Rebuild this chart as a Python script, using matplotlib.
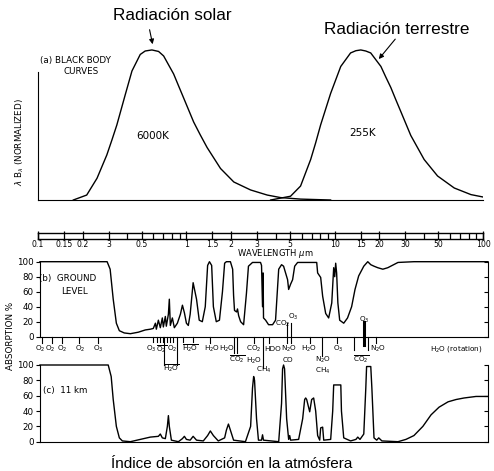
import numpy as np
import matplotlib
matplotlib.use('Agg')
import matplotlib.pyplot as plt

# black body curves, lambda*B_lambda normalised to peak
hot_wl = [0.173, 0.213, 0.250, 0.291, 0.315, 0.340, 0.387, 0.430, 0.489, 0.528, 0.586, 0.650,
          0.703, 0.821, 0.887, 0.959, 1.12, 1.24, 1.38, 1.70, 2.09, 2.71, 3.51, 4.32, 5.89, 9.39]
hot_val = [0, 0.033, 0.145, 0.30, 0.40, 0.50, 0.70, 0.86, 0.97, 0.993, 1.0, 0.99,
           0.96, 0.84, 0.76, 0.68, 0.52, 0.435, 0.35, 0.21, 0.12, 0.067, 0.033, 0.016, 0.006, 0]
cold_wl = [3.70, 5.04, 5.89, 6.89, 7.44, 8.04, 9.39, 10.99, 12.8, 13.9, 15.0, 16.2, 17.5,
           20.5, 22.1, 23.9, 25.8, 27.9, 32.6, 40.1, 49.4, 64.0, 82.9, 100]
cold_val = [0, 0.025, 0.093, 0.27, 0.38, 0.50, 0.71, 0.89, 0.98, 0.995, 1.0, 0.993, 0.98,
            0.89, 0.82, 0.75, 0.67, 0.59, 0.43, 0.27, 0.16, 0.08, 0.036, 0.02]

# absorption at ground level (%)
ground_wl = [0.103, 0.292, 0.306, 0.321, 0.337, 0.353, 0.381, 0.419, 0.474, 0.528,
             0.571, 0.598, 0.618, 0.627, 0.647, 0.667, 0.688, 0.699, 0.721, 0.732,
             0.756, 0.767, 0.779, 0.804, 0.829, 0.869, 0.911, 0.940, 0.969, 1.00,
             1.03, 1.06, 1.11, 1.17, 1.22, 1.28, 1.34, 1.39, 1.43, 1.48,
             1.52, 1.59, 1.67, 1.75, 1.81, 1.86, 1.98, 2.05, 2.08, 2.11,
             2.18, 2.21, 2.25, 2.32, 2.43, 2.54, 2.62, 2.79, 3.16, 3.21,
             3.26, 3.29, 3.31, 3.42, 3.58, 3.81, 3.99, 4.19, 4.38, 4.52,
             4.81, 4.89, 5.04, 5.20, 5.37, 5.62, 7.56, 7.67, 8.04, 8.29,
             8.69, 9.10, 9.55, 9.84, 10.0, 10.15, 10.3, 10.5, 10.8, 11.5,
             12.2, 13.0, 13.7, 14.5, 15.7, 16.7, 17.5, 18.4, 19.5, 21.1,
             22.8, 26.7, 34.2, 108]
ground_abs = [100, 100, 90, 50, 18, 8, 5, 4, 6, 9,
              10, 11, 18, 10, 22, 12, 25, 13, 27, 14,
              30, 50, 15, 25, 12, 18, 30, 42, 32, 18,
              15, 30, 72, 50, 22, 20, 40, 95, 100, 95,
              40, 20, 22, 60, 98, 100, 100, 90, 55, 35,
              33, 37, 28, 20, 16, 58, 94, 99, 99, 95,
              40, 85, 25, 22, 16, 16, 22, 90, 96, 94,
              76, 63, 70, 76, 94, 99, 99, 85, 79, 54,
              31, 25, 45, 92, 80, 98, 85, 45, 22, 18,
              25, 40, 63, 81, 94, 100, 96, 94, 92, 90,
              92, 99, 100, 100]

# absorption at 11 km (%)
km11_wl = [0.103, 0.297, 0.311, 0.321, 0.337, 0.353, 0.370, 0.419, 0.489, 0.571,
           0.647, 0.667, 0.688, 0.721, 0.744, 0.756, 0.767, 0.792, 0.883, 0.940,
           0.969, 1.00, 1.06, 1.11, 1.17, 1.30, 1.39, 1.45, 1.52, 1.64,
           1.81, 1.86, 1.92, 1.98, 2.08, 2.50, 2.71, 2.79, 2.84, 2.88,
           2.97, 3.06, 3.21, 3.26, 3.31, 4.19, 4.38, 4.45, 4.52, 4.59,
           4.74, 4.89, 4.97, 5.04, 5.71, 6.08, 6.27, 6.37, 6.47, 6.78,
           6.99, 7.21, 7.44, 7.67, 7.92, 8.04, 8.29, 8.43, 9.39, 9.69,
           9.84, 10.99, 11.1, 11.5, 12.8, 13.9, 14.3, 14.8, 15.7, 16.2,
           16.4, 17.5, 17.8, 18.4, 19.2, 19.8, 20.8, 26.7, 30.2, 34.2,
           39.3, 44.6, 50.5, 58.1, 65.8, 74.5, 89.7, 108]
km11_abs = [100, 100, 85, 55, 20, 5, 1, 0, 3, 6,
            7, 10, 5, 4, 20, 34, 20, 2, 0, 4,
            7, 3, 2, 7, 2, 1, 8, 14, 8, 1,
            5, 15, 23, 15, 2, 0, 20, 70, 85, 80,
            30, 2, 2, 9, 2, 0, 50, 95, 100, 95,
            30, 3, 8, 2, 3, 30, 55, 57, 55, 39,
            55, 57, 40, 8, 2, 18, 19, 2, 3, 40,
            74, 74, 40, 5, 1, 3, 6, 3, 10, 70,
            98, 98, 70, 5, 2, 5, 1, 0, 3, 8,
            20, 35, 45, 52, 55, 57, 59, 59]

# wavelength scale
scale_major = [0.1, 0.15, 0.2, 0.3, 0.5, 1, 1.5, 2, 3, 5, 10, 15, 20, 30, 50, 100]
scale_labels = ['0.1', '0.15', '0.2', '3', '0.5', '1', '1.5', '2', '3', '5', '10', '15', '20', '30', '50', '100']
scale_minor = [0.4, 0.6, 0.7, 0.8, 0.9, 4, 6, 7, 8, 9, 40, 60, 70, 80, 90]

# molecule labels under panel (b): wavelength, text, pixels below axis
mol_labels = [
    (0.103, r'O$_2$', 12), (0.120, r'O$_2$', 12), (0.145, r'O$_2$', 12), (0.192, r'O$_2$', 12),
    (0.254, r'O$_3$', 12), (0.575, r'O$_3$', 12), (0.676, r'$\overline{\mathrm{O_2}}$', 13),
    (0.800, r'O$_2$', 12), (0.786, r'$\overline{\mathrm{H_2O}}$', 32),
    (1.06, r'$\overline{\mathrm{H_2O}}$', 12), (1.50, r'H$_2$O', 12), (1.89, r'H$_2$O', 12),
    (2.21, r'$\overline{\mathrm{CO_2}}$', 23), (2.84, r'CO$_2$', 12), (2.84, r'H$_2$O', 24),
    (3.31, r'CH$_4$', 33), (3.81, 'HDO', 12), (4.89, r'N$_2$O', 12), (4.81, 'CO', 23),
    (6.67, r'H$_2$O', 12), (8.29, r'N$_2$O', 23), (8.29, r'CH$_4$', 34),
    (10.5, r'O$_3$', 12), (15.0, r'$\overline{\mathrm{CO_2}}$', 23), (19.5, r'N$_2$O', 12),
    (65.8, r'H$_2$O (rotation)', 12),
]
# labels above the axis
mol_labels_up = [(4.45, r'CO$_2$', 13), (5.28, r'O$_3$', 20), (15.7, r'O$_3$', 17)]
# tick marks: wavelength, length below, length above (pixels)
mol_ticks = [
    (0.106, 6, 0), (0.124, 6, 0), (0.145, 6, 0), (0.189, 6, 0), (0.254, 6, 0),
    (0.598, 5, 0), (0.636, 5, 0), (0.667, 5, 0), (0.699, 5, 0), (0.744, 5, 0),
    (0.779, 5, 0), (0.818, 5, 0), (0.710, 28, 0), (0.869, 28, 0),
    (0.955, 5, 0), (1.11, 5, 0), (1.45, 6, 0), (2.08, 16, 0), (2.18, 16, 0),
    (2.84, 6, 0), (3.26, 31, 0), (3.58, 6, 0), (4.74, 6, 14), (5.04, 6, 14),
    (6.78, 6, 0), (8.17, 19, 0), (10.3, 6, 0), (13.4, 13, 0), (16.7, 13, 0),
    (19.0, 6, 0),
]

W, H = 494, 471
fig = plt.figure(figsize=(W / 100, H / 100), dpi=100)


def rect(x0, y0, x1, y1):
    return [x0 / W, 1 - y1 / H, (x1 - x0) / W, (y1 - y0) / H]


txt = dict(fontsize=6.3, color='black')

# (a) black body curves
ax1 = fig.add_axes(rect(38, 45, 483, 200))
ax1.set_xscale('log')
ax1.set_xlim(0.1, 100)
ax1.set_ylim(0, 1.033)
ax1.plot(hot_wl, hot_val, color='black', lw=1.0)
ax1.plot(cold_wl, cold_val, color='black', lw=1.0)
for s in ['top', 'right']:
    ax1.spines[s].set_visible(False)
ax1.spines['left'].set_bounds(0, 0.85)
ax1.set_xticks([])
ax1.set_yticks([])
ax1.minorticks_off()
ax1.patch.set_alpha(0)
fig.text(75 / W, 1 - 61 / H, '(a) BLACK BODY', ha='center', va='center', **txt)
fig.text(81 / W, 1 - 72 / H, 'CURVES', ha='center', va='center', **txt)
fig.text(20 / W, 1 - 142 / H, r'$\lambda$ B$_\lambda$ (NORMALIZED)', rotation=90,
         ha='center', va='center', **txt)
fig.text(153 / W, 1 - 136 / H, '6000K', ha='center', va='center', fontsize=7.5)
fig.text(363 / W, 1 - 133 / H, '255K', ha='center', va='center', fontsize=7.5)

sans = 'Liberation Sans'
fig.text(172 / W, 1 - 15 / H, 'Radiación solar', ha='center', va='center',
         fontsize=12.3, family=sans)
fig.text(397 / W, 1 - 30 / H, 'Radiación terrestre', ha='center', va='center',
         fontsize=12.3, family=sans)
arr = dict(arrowstyle='-|>', color='black', lw=0.8, mutation_scale=7)
ax1.annotate('', xy=(0.598, 1.02), xycoords='data', xytext=(149, H - 27),
             textcoords='figure pixels', arrowprops=arr, annotation_clip=False)
ax1.annotate('', xy=(19.3, 0.925), xycoords='data', xytext=(397, H - 37),
             textcoords='figure pixels', arrowprops=arr, annotation_clip=False)

# wavelength scale bar
axs = fig.add_axes(rect(38, 233, 483, 239))
axs.set_xscale('log')
axs.set_xlim(0.1, 100)
axs.set_ylim(0, 1)
axs.vlines(scale_minor, 0, 1, color='black', lw=0.9)
axs.vlines(scale_major, 0, 1.35, color='black', lw=0.9, clip_on=False)
axs.set_yticks([])
axs.minorticks_off()
axs.set_xticks(scale_major)
axs.set_xticklabels(scale_labels, fontsize=5.6)
axs.tick_params(axis='x', length=0, pad=0.5)
for s in axs.spines.values():
    s.set_linewidth(1.0)
fig.text(275 / W, 1 - 254 / H, r'WAVELENGTH $\mu$m', ha='center', va='center', fontsize=6)


def absorption_panel(box, wl, ab):
    ax = fig.add_axes(box)
    ax.set_xscale('log')
    ax.set_xlim(0.103, 108)
    ax.set_ylim(0, 100)
    ax.plot(wl, ab, color='black', lw=1.0, clip_on=False)
    ax.spines['top'].set_visible(False)
    ax.spines['right'].set_visible(False)
    ax.set_xticks([])
    ax.minorticks_off()
    ax.set_yticks([0, 20, 40, 60, 80, 100])
    ax.tick_params(axis='y', direction='out', length=3, width=0.8, pad=1.5, labelsize=6.3)
    sec = ax.secondary_yaxis('right')
    sec.set_yticks([0, 20, 40, 60, 80, 100])
    sec.tick_params(direction='in', length=3, width=0.8, labelright=False)
    ax.patch.set_alpha(0)
    return ax


# (b) ground level
axb = absorption_panel(rect(40, 261.7, 488, 336.7), ground_wl, ground_abs)
fig.text(68 / W, 1 - 278 / H, '(b)  GROUND', ha='center', va='center', **txt)
fig.text(74 / W, 1 - 291 / H, 'LEVEL', ha='center', va='center', **txt)
hb = axb.bbox.height
tr = axb.get_xaxis_transform()
for wl, down, up in mol_ticks:
    axb.plot([wl, wl], [-down / hb, up / hb], color='black', lw=0.8,
             transform=tr, clip_on=False)
axb.plot([15.7, 15.7], [-8 / hb, 15 / hb], color='black', lw=2.2,
         transform=tr, clip_on=False)
for wl, t, off in mol_labels:
    axb.annotate(t, xy=(wl, 0), xycoords=('data', 'axes fraction'), xytext=(0, -off),
                 textcoords='offset pixels', ha='center', va='center', fontsize=5.2)
for wl, t, off in mol_labels_up:
    axb.annotate(t, xy=(wl, 0), xycoords=('data', 'axes fraction'), xytext=(0, off),
                 textcoords='offset pixels', ha='center', va='center', fontsize=5.2)

fig.text(11 / W, 1 - 336 / H, 'ABSORPTION %', rotation=90, ha='center', va='center', **txt)

# (c) 11 km
axc = absorption_panel(rect(40, 365, 488, 441.7), km11_wl, km11_abs)
fig.text(65 / W, 1 - 390 / H, '(c)  11 km', ha='center', va='center', **txt)

fig.text(232 / W, 1 - 464 / H, 'Índice de absorción en la atmósfera', ha='center',
         va='center', fontsize=11, family=sans)

fig.savefig('out.png', dpi=100, facecolor='white')
